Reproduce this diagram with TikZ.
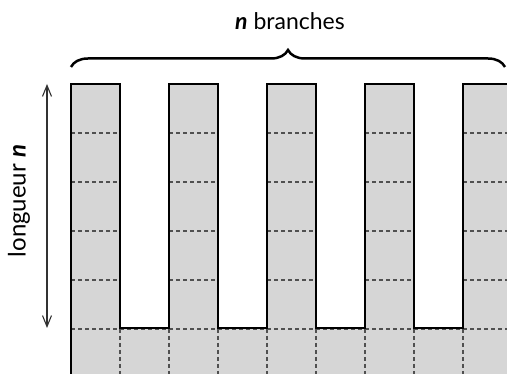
\documentclass[tikz,border=0pt]{standalone}
\usepackage{fontspec}
\setmainfont{Lato}
\usetikzlibrary{decorations.pathreplacing,arrows.meta}
\definecolor{combfill}{RGB}{214,214,214}
\definecolor{dashgray}{RGB}{80,80,80}
\definecolor{arrowgray}{RGB}{50,50,50}
\tikzset{
  outline/.style={draw=black, line width=2pt, line join=miter},
  cell/.style={draw=dashgray, line width=1.1pt, dash pattern=on 4pt off 3pt},
  lenarrow/.style={draw=arrowgray, line width=1.1pt, {Straight Barb[length=11pt,width=9pt]}-{Straight Barb[length=11pt,width=9pt]}},
  bracestyle/.style={draw=black, line width=2.5pt, decorate, decoration={brace, amplitude=17pt}},
  toplbl/.style={font=\fontsize{23}{27}\selectfont, inner sep=0pt},
  sidelbl/.style={font=\fontsize{24}{28}\selectfont, inner sep=0pt}
}
\begin{document}
\begin{tikzpicture}[x=1pt, y=-1pt]
\useasboundingbox (0,0) rectangle (507,374);
\begin{scope}
\clip (0,0) rectangle (507,374);
% comb body
\path[fill=combfill] (71,84) -- (120,84) -- (120,328) -- (169,328) -- (169,84) -- (218,84) -- (218,328) -- (267,328) -- (267,84) -- (316,84) -- (316,328) -- (365,328) -- (365,84) -- (414,84) -- (414,328) -- (463,328) -- (463,84) -- (520,84) -- (520,390) -- (71,390) -- cycle;
% dashed cells in branches
\foreach \xa in {71,169,267,365,463}{
  \foreach \yy in {133,182,231,280}{
    \draw[cell] (\xa,\yy) -- ++(49,0);
  }
}
\draw[cell] (71,329) -- (520,329);
\foreach \xx in {120,169,218,267,316,365,414,463,512}{
  \draw[cell] (\xx,329) -- (\xx,390);
}
% outline
\draw[outline] (71,390) -- (71,84) -- (120,84) -- (120,328) -- (169,328) -- (169,84) -- (218,84) -- (218,328) -- (267,328) -- (267,84) -- (316,84) -- (316,328) -- (365,328) -- (365,84) -- (414,84) -- (414,328) -- (463,328) -- (463,84) -- (520,84);
\end{scope}
% length arrow
\coordinate (atop) at (47,84);
\coordinate (abot) at (47,328);
\draw[lenarrow] (atop) -- (abot);
\node[sidelbl, rotate=90] (lenlabel) at (19,201) {longueur \textbf{\textit{n}}};
% brace
\coordinate (bl) at (71,67);
\coordinate (br) at (505,67);
\draw[bracestyle] (bl) -- (br);
\node[toplbl] (brlabel) at (290,21) {\textbf{\textit{n}} branches};
\end{tikzpicture}
\end{document}
